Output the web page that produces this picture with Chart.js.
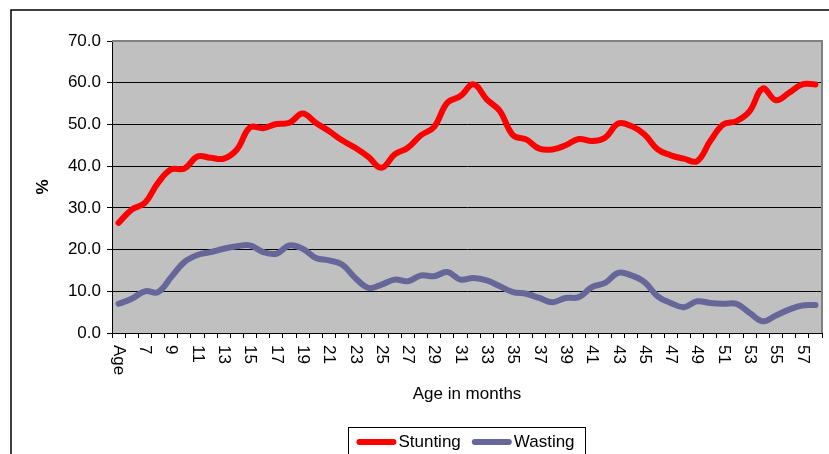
<!DOCTYPE html>
<html>
<head>
<meta charset="utf-8">
<style>
	html, body { margin: 0; padding: 0; background: #fff; }
	canvas { display: block; }
</style>
<script src="https://cdn.jsdelivr.net/npm/chart.js@4"></script>
</head>
<body>
<canvas id="age-chart" width="829" height="454"></canvas>
<script>
const ageLabels = [
	'Age', '6', '7', '8', '9', '10', '11', '12', '13', '14', '15', '16', '17', '18',
	'19', '20', '21', '22', '23', '24', '25', '26', '27', '28', '29', '30', '31', '32',
	'33', '34', '35', '36', '37', '38', '39', '40', '41', '42', '43', '44', '45', '46',
	'47', '48', '49', '50', '51', '52', '53', '54', '55', '56', '57', '58',
];

const stunting = [
	26.4, 29.6, 31.2, 36.0, 39.2, 39.4, 42.3, 42.0, 41.8, 44.0, 49.3, 49.1, 50.1, 50.4,
	52.6, 50.4, 48.4, 46.2, 44.4, 42.2, 39.6, 42.8, 44.4, 47.4, 49.4, 55.2, 56.8, 59.6,
	56.0, 53.2, 47.4, 46.4, 44.2, 44.0, 45.0, 46.5, 46.0, 46.8, 50.2, 49.6, 47.6, 44.0,
	42.6, 41.8, 41.2, 46.0, 50.0, 50.8, 53.2, 58.6, 55.8, 57.6, 59.6, 59.6,
];

const wasting = [
	7.0, 8.2, 10.0, 9.8, 13.4, 17.0, 18.7, 19.4, 20.2, 20.8, 21.0, 19.4, 19.0, 21.0,
	20.2, 18.0, 17.4, 16.4, 13.2, 10.8, 11.6, 12.8, 12.4, 13.8, 13.6, 14.6, 12.8, 13.2,
	12.6, 11.2, 9.8, 9.4, 8.4, 7.4, 8.4, 8.6, 11.0, 12.0, 14.4, 13.8, 12.2, 8.8,
	7.2, 6.2, 7.6, 7.2, 7.0, 7.0, 4.8, 2.8, 4.2, 5.6, 6.6, 6.7,
];

const seriesNames = ['Stunting', 'Wasting'];
const seriesColors = ['#ff0000', '#666699'];
const yTicks = [0, 10, 20, 30, 40, 50, 60, 70];

const fontFamily = "'Liberation Sans', Arial, sans-serif";
Chart.defaults.font.family = fontFamily;
Chart.defaults.font.size = 17;
Chart.defaults.color = '#000';

const lineDefaults = {
	pointRadius: 0,
	pointHoverRadius: 0,
	borderWidth: 6,
	tension: 0.4,
	borderCapStyle: 'round',
	borderJoinStyle: 'round',
	fill: false,
};

// frame, plot background, plot border, rotated x labels and the boxed legend
const excelLook = {
	id: 'excelLook',
	beforeDraw(chart) {
		const { ctx, chartArea: a } = chart;
		ctx.save();
		ctx.fillStyle = '#fff';
		ctx.fillRect(0, 0, chart.width, chart.height);
		ctx.strokeStyle = '#000';
		ctx.lineWidth = 1.5;
		ctx.beginPath();
		ctx.moveTo(11, chart.height);
		ctx.lineTo(11, 10);
		ctx.lineTo(chart.width, 10);
		ctx.stroke();
		ctx.fillStyle = '#c0c0c0';
		ctx.fillRect(a.left, a.top, a.right - a.left, a.bottom - a.top);
		ctx.restore();
	},
	beforeDatasetsDraw(chart) {
		const { ctx, chartArea: a } = chart;
		ctx.save();
		ctx.strokeStyle = '#808080';
		ctx.lineWidth = 2;
		ctx.beginPath();
		ctx.moveTo(a.left, a.top);
		ctx.lineTo(a.right, a.top);
		ctx.lineTo(a.right, a.bottom);
		ctx.stroke();
		ctx.restore();
	},
	afterDraw(chart) {
		const { ctx } = chart;
		const xScale = chart.scales.x;
		ctx.save();
		ctx.font = `17px ${fontFamily}`;
		ctx.fillStyle = '#000';
		ctx.textAlign = 'left';
		ctx.textBaseline = 'middle';
		xScale.ticks.forEach((tick, i) => {
			if (i % 2) return;
			const x = xScale.getPixelForTick(i);
			ctx.save();
			ctx.translate(x, 345);
			ctx.rotate(Math.PI / 2);
			ctx.fillText(ageLabels[i], 0, 0);
			ctx.restore();
		});

		// legend box
		const lineLen = 40;
		const gap = 5;
		const itemGap = 8;
		const widths = chart.data.datasets.map((d) => ctx.measureText(d.label).width);
		const total = widths.reduce((s, w) => s + lineLen + gap + w, 0) + itemGap;
		const cx = (chart.chartArea.left + chart.chartArea.right) / 2;
		let x = cx - total / 2;
		const y = 442;
		ctx.strokeStyle = '#000';
		ctx.lineWidth = 1;
		ctx.strokeRect(Math.round(x - 8) + 0.5, 427.5, Math.round(total + 16), 40);
		chart.data.datasets.forEach((d, i) => {
			ctx.strokeStyle = d.borderColor;
			ctx.lineWidth = d.borderWidth;
			ctx.lineCap = 'round';
			ctx.beginPath();
			ctx.moveTo(x + 3, y);
			ctx.lineTo(x + lineLen - 3, y);
			ctx.stroke();
			ctx.fillText(d.label, x + lineLen + gap - 3, y);
			x += lineLen + gap + widths[i] + itemGap;
		});
		ctx.restore();
	},
};

new Chart(document.getElementById('age-chart'), {
	type: 'line',
	data: {
		labels: ageLabels,
		datasets: [
			{ ...lineDefaults, label: seriesNames[0], data: stunting, borderColor: seriesColors[0], backgroundColor: seriesColors[0] },
			{ ...lineDefaults, label: seriesNames[1], data: wasting, borderColor: seriesColors[1], backgroundColor: seriesColors[1] },
		],
	},
	options: {
		responsive: false,
		animation: false,
		events: [],
		layout: { padding: { left: 0, top: 41, right: 7, bottom: 49 } },
		plugins: {
			legend: { display: false },
			tooltip: { enabled: false },
		},
		scales: {
			x: {
				type: 'category',
				offset: true,
				grid: {
					offset: true,
					drawOnChartArea: false,
					drawTicks: true,
					tickLength: 5,
					color: '#000',
				},
				border: { color: '#000', width: 1 },
				ticks: { display: false, autoSkip: false },
				title: {
					display: true,
					text: 'Age in months',
					font: { size: 17, lineHeight: 1.2 },
					padding: { top: 0, bottom: 0 },
				},
				afterFit: (scale) => { scale.height = 72; },
			},
			y: {
				min: 0,
				max: 70,
				afterBuildTicks: (scale) => { scale.ticks = yTicks.map((v) => ({ value: v })); },
				grid: { color: '#000', tickLength: 5, lineWidth: 1 },
				border: { color: '#000', width: 1 },
				ticks: {
					padding: 6,
					font: { size: 17 },
					callback: (v) => v.toFixed(1),
				},
				title: {
					display: true,
					text: '%',
					font: { size: 17, weight: 'bold', lineHeight: 1.2 },
					padding: { top: 33, bottom: 0 },
				},
				afterFit: (scale) => { scale.width = 112; },
			},
		},
	},
	plugins: [excelLook],
});
</script>
</body>
</html>
